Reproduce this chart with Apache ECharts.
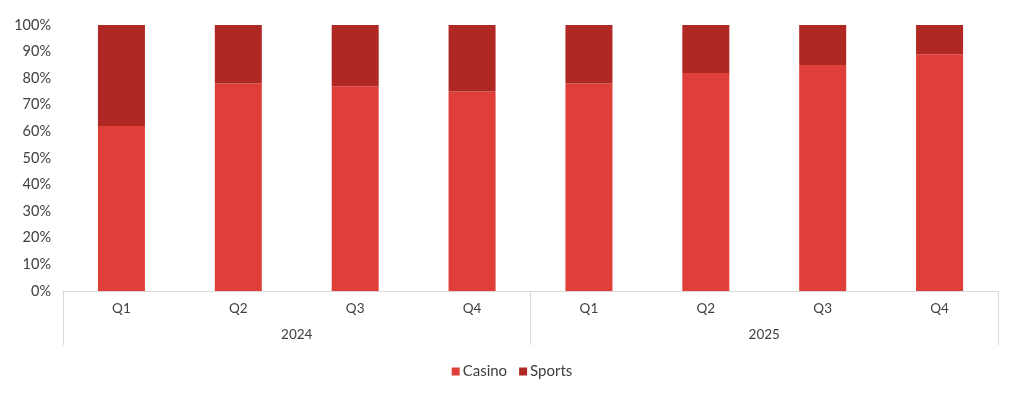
<!DOCTYPE html>
<html><head><meta charset="utf-8">
<script src="https://cdn.jsdelivr.net/npm/echarts@6/dist/echarts.min.js"></script>
<style>html,body{margin:0;padding:0;background:#fff}#c{width:1024px;height:401px}</style>
</head><body><div id="c"></div>
<script>
const quarters = ['Q1','Q2','Q3','Q4','Q1','Q2','Q3','Q4'];
const years = ['2024','2025'];
const casino = [62, 78, 77, 75, 78, 82, 85, 89];
const sports = [38, 22, 23, 25, 22, 18, 15, 11];
const yTicks = [0,10,20,30,40,50,60,70,80,90,100];

const font = 'Lato, "Open Sans", sans-serif';
const chart = echarts.init(document.getElementById('c'));
chart.setOption({
  animation: false,
  textStyle: { fontFamily: font },
  grid: { left: 63, right: 26, top: 25, bottom: 110 },
  legend: {
    data: ['Casino','Sports'], bottom: 17, left: 'center',
    itemWidth: 8, itemHeight: 8, itemGap: 12, icon: 'rect',
    textStyle: { fontFamily: font, fontSize: 15, color: '#404040', padding: [0,0,0,-2] }
  },
  xAxis: [
    { type: 'category', data: quarters, position: 'bottom',
      axisLine: { show: true, lineStyle: { color: '#d9d9d9', width: 1 } },
      axisTick: { show: false },
      axisLabel: { margin: 11, fontSize: 13.5, color: '#404040', fontFamily: font } },
    { type: 'category', data: years, position: 'bottom', boundaryGap: true,
      axisLine: { show: false },
      axisTick: { show: true, length: 54, lineStyle: { color: '#d9d9d9', width: 1 } },
      axisLabel: { margin: 37, fontSize: 13.5, color: '#404040', fontFamily: font } }
  ],
  yAxis: {
    type: 'value', min: 0, max: 100, interval: 10,
    axisLine: { show: false }, axisTick: { show: false }, splitLine: { show: false },
    axisLabel: { formatter: v => yTicks.includes(v) ? v + '%' : '', fontSize: 14.5, color: '#404040', margin: 12, fontFamily: font }
  },
  series: [
    { name: 'Casino', type: 'bar', stack: 's', data: casino, barWidth: 47, itemStyle: { color: '#E03E39' } },
    { name: 'Sports', type: 'bar', stack: 's', data: sports, barWidth: 47, itemStyle: { color: '#B02823' } }
  ]
});
</script></body></html>
